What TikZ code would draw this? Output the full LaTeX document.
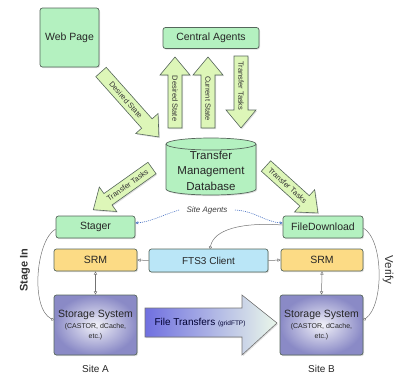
\documentclass[tikz,border=0pt]{standalone}
\usepackage{fontspec}
\setmainfont{Liberation Sans}
\usetikzlibrary{arrows.meta,shadows}
\definecolor{boxgreen}{HTML}{B4F1C0}
\definecolor{arrowgreen}{HTML}{DDF6B8}
\definecolor{edgegray}{HTML}{56665B}
\definecolor{srmfill}{HTML}{FCDB85}
\definecolor{ftsfill}{HTML}{BAE6F7}
\definecolor{stinner}{HTML}{F2F2F9}
\definecolor{stouter}{HTML}{8A8AC6}
\definecolor{agentblue}{HTML}{4C74C4}
\definecolor{ftleft}{HTML}{7070E0}
\definecolor{ftright}{HTML}{EAF7EA}
\newcommand\blockarrow[6]{%
  \begin{scope}[shift={#2},rotate=#3]
    \draw[barrow] (0,-7) -- ({#4-18},-7) -- ({#4-18},-15) -- (#4,0)
      -- ({#4-18},15) -- ({#4-18},7) -- (0,7) -- cycle;
    \node[alabel,rotate=#5] (#1) at ({(#4-18)/2+3},0) {#6};
  \end{scope}}
\begin{document}
\begin{tikzpicture}[x=1pt,y=1pt,
  shad/.style={drop shadow={shadow xshift=1pt,shadow yshift=-1.2pt,opacity=0.25}},
  basebox/.style={draw=edgegray,line width=0.7pt,rounded corners=2.5pt,shad,
    inner sep=0pt,align=center,text=black!85,font=\fontsize{10.5}{12}\selectfont},
  gbox/.style={basebox,fill=boxgreen},
  srmbox/.style={basebox,fill=srmfill,minimum height=22pt},
  ftsbox/.style={basebox,fill=ftsfill},
  stbox/.style={basebox,shading=radial,inner color=stinner,outer color=stouter,
    minimum width=83pt,minimum height=60pt},
  barrow/.style={draw=edgegray,line width=0.6pt,fill=arrowgreen,shad},
  alabel/.style={font=\fontsize{7.5}{8}\selectfont,text=black!80,inner sep=0pt},
  conn/.style={draw=black!55,line width=0.5pt},
  otip/.style={-{Triangle[open,length=3.2pt,width=3.2pt]}},
  ctip/.style={-{Circle[open,length=3pt]}},
  agent/.style={draw=agentblue,line width=0.6pt,dash pattern=on 1pt off 1pt,
    -{Stealth[length=3pt,width=3pt]}},
  sitelabel/.style={font=\fontsize{10}{12}\selectfont,text=black!85}
]
\useasboundingbox (0,0) rectangle (403,-376);

% top boxes
\node[gbox,minimum width=59pt,minimum height=59pt] (web) at (69.5,-37.5) {Web Page};
\node[gbox,minimum width=96pt,minimum height=21pt] (central) at (211,-38) {Central Agents};

% database cylinder
\path[fill=boxgreen,draw=edgegray,line width=0.7pt,shad]
  (166,-144) -- (166,-189) arc[start angle=180,end angle=360,x radius=45,y radius=6]
  -- (256,-144) arc[start angle=0,end angle=180,x radius=45,y radius=6] -- cycle;
\draw[edgegray,line width=0.7pt] (166,-144) arc[start angle=180,end angle=360,x radius=45,y radius=6];
\node[align=center,font=\fontsize{11.5}{15.5}\selectfont,text=black!85] (db) at (211,-170.5)
  {Transfer\\Management\\Database};

% block arrows
\blockarrow{ds1}{(175,-128)}{90}{71}{-90}{Desired State}
\blockarrow{cs}{(208,-128)}{90}{71}{-90}{Current State}
\blockarrow{tt1}{(241,-56)}{-90}{72}{-90}{Transfer Tasks}
\blockarrow{ds2}{(101,-72)}{-48.3}{87}{-48.3}{Desired State}
\blockarrow{tt2}{(152,-168)}{215.4}{72}{35.4}{Transfer Tasks}
\blockarrow{tt3}{(266,-166)}{-42.1}{70}{-42.1}{Transfer Tasks}

% site A
\node[gbox,minimum width=79pt,minimum height=22pt] (stager) at (95.5,-227) {Stager};
\node[srmbox,minimum width=83pt] (srmA) at (95.5,-260) {SRM};
\node[stbox] (stA) at (95.5,-325) {Storage System\\[-1pt]{\fontsize{7}{10}\selectfont (CASTOR, dCache,}\\[-2pt]{\fontsize{7}{10}\selectfont etc.)}};
\node[sitelabel] (siteA) at (95.5,-369) {Site A};
\node[font=\bfseries\fontsize{11}{12}\selectfont,text=black!80,rotate=90] (stagein) at (25,-270) {Stage In};

% site B
\node[gbox,minimum width=80pt,minimum height=22pt] (fd) at (323,-227) {FileDownload};
\node[srmbox,minimum width=82pt] (srmB) at (322,-260) {SRM};
\node[stbox] (stB) at (321.5,-325) {Storage System\\[-1pt]{\fontsize{7}{10}\selectfont (CASTOR, dCache,}\\[-2pt]{\fontsize{7}{10}\selectfont etc.)}};
\node[sitelabel] (siteB) at (321.5,-369) {Site B};
\node[font=\fontsize{11.5}{12}\selectfont,text=black!80,rotate=-90] (verify) at (388,-270) {Verify};

% FTS3 client
\node[ftsbox,minimum width=119pt,minimum height=23pt,font=\fontsize{10}{12}\selectfont] (fts) at (208.5,-260.5) {FTS3 Client};

% site agents
\node[font=\itshape\fontsize{8}{10}\selectfont,text=black!75] (sa) at (207,-210) {Site Agents};
\draw[agent] ([xshift=-4pt]sa.west) .. controls (160,-216) and (150,-222) .. ([yshift=4pt]stager.east);
\draw[agent] ([xshift=4pt]sa.east) .. controls (255,-211) and (265,-222) .. ([yshift=4pt]fd.west);

% connectors
\draw[conn,otip] (fts.west) -- (srmA.east);
\draw[conn,otip] (fts.east) -- (srmB.west);
\draw[conn,{Triangle[open,length=3.2pt,width=3.2pt]}-{Triangle[open,length=3.2pt,width=3.2pt]}] (srmA.south) -- (stA.north);
\draw[conn,{Triangle[open,length=3.2pt,width=3.2pt]}-{Triangle[open,length=3.2pt,width=3.2pt]}] (srmB.south) -- (stB.north);
\draw[conn,ctip] ([yshift=-2pt]stager.west) .. controls (36,-240) and (30,-308) .. ([yshift=5pt]stA.west);
\draw[conn,ctip] ([yshift=-1pt]fd.east) .. controls (384,-240) and (384,-306) .. ([yshift=5pt]stB.east);
\draw[conn,ctip] ([yshift=2pt]fd.west) .. controls (240,-222) and (214,-230) .. ([xshift=1.5pt]fts.north);

% file transfers arrow
\path[draw=black!55,line width=0.6pt,left color=ftleft,right color=ftright,shad]
  (145,-308) -- (242,-308) -- (242,-295) -- (277,-323) -- (242,-355) -- (242,-337) -- (145,-337) -- cycle;
\node[text=black!80!blue,font=\fontsize{10}{12}\selectfont] (ft) at (200,-323)
  {File Transfers {\fontsize{6.5}{8}\selectfont (gridFTP)}};
\end{tikzpicture}
\end{document}
